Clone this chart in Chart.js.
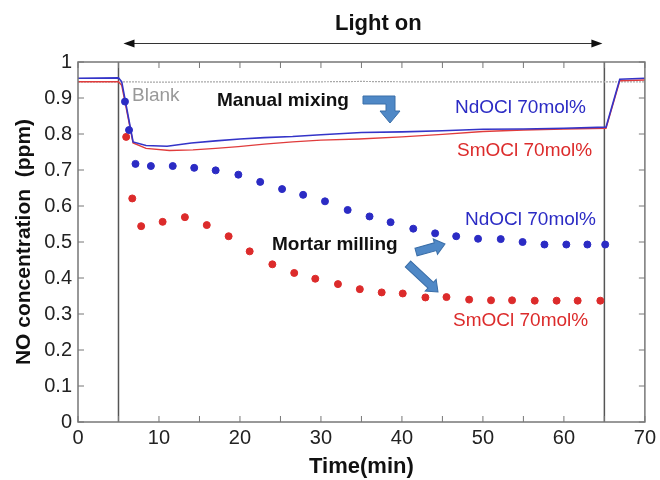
<!DOCTYPE html>
<html>
<head>
<meta charset="utf-8">
<script src="https://cdn.jsdelivr.net/npm/chart.js@4"></script>
<style>
  html, body { margin: 0; padding: 0; background: #fff; }
  #wrap { width: 660px; height: 480px; }
</style>
</head>
<body>
<div id="wrap"><canvas id="no-chart" width="660" height="480"></canvas></div>
<script>
// light switched on / off (min)
let lightOn = [5, 65];

// Blank run
let blankT = [0, 5, 10, 15, 20, 25, 30, 35, 40, 45, 50, 55, 60, 65, 70];
let blankNO = [0.945, 0.945, 0.944, 0.945, 0.945, 0.944, 0.945, 0.946, 0.945, 0.945, 0.945, 0.944, 0.945, 0.945, 0.945];

// Manual mixing (continuous traces)
let ndMixT = [0, 5, 5.4, 6.8, 8.4, 11, 14, 17, 20, 23, 26.5, 30, 35, 40, 45, 50, 55, 60, 65.2, 66.9, 70];
let ndMixNO = [0.955, 0.956, 0.945, 0.778, 0.768, 0.766, 0.775, 0.781, 0.786, 0.79, 0.793, 0.798, 0.804, 0.806, 0.809, 0.813, 0.814, 0.816, 0.819, 0.952, 0.955];
let smMixT = [0, 5, 5.4, 6.8, 8.4, 11.3, 14.2, 17, 19.8, 23, 26.5, 30, 34.7, 40, 45, 50, 55, 60, 65.2, 66.9, 70];
let smMixNO = [0.945, 0.945, 0.935, 0.775, 0.76, 0.754, 0.756, 0.76, 0.765, 0.772, 0.778, 0.783, 0.786, 0.792, 0.799, 0.807, 0.811, 0.814, 0.816, 0.948, 0.95];

// Mortar milling (dots)
let ndMillT = [5.8, 6.3, 7.1, 9.0, 11.7, 14.35, 17.0, 19.8, 22.5, 25.2, 27.8, 30.5, 33.3, 36.0, 38.6, 41.4, 44.1, 46.7, 49.4, 52.2, 54.9, 57.6, 60.3, 62.9, 65.1];
let ndMillNO = [0.89, 0.811, 0.717, 0.711, 0.711, 0.706, 0.699, 0.687, 0.667, 0.647, 0.631, 0.613, 0.589, 0.571, 0.555, 0.537, 0.524, 0.516, 0.509, 0.508, 0.5, 0.493, 0.493, 0.493, 0.493];
let smMillT = [5.95, 6.7, 7.8, 10.45, 13.2, 15.9, 18.6, 21.2, 24.0, 26.7, 29.3, 32.1, 34.8, 37.5, 40.1, 42.9, 45.5, 48.3, 51.0, 53.6, 56.4, 59.1, 61.7, 64.5];
let smMillNO = [0.792, 0.621, 0.544, 0.556, 0.569, 0.547, 0.516, 0.474, 0.438, 0.414, 0.398, 0.383, 0.369, 0.36, 0.357, 0.346, 0.347, 0.34, 0.338, 0.338, 0.337, 0.337, 0.337, 0.337];

let pts = (xs, ys) => xs.map((x, i) => ({x: x, y: ys[i]}));

let blue = '#2b2bc4';
let red = '#dc2b2b';
let arrowBlue = '#4f88c6';

function blockArrow(ctx, x1, y1, x2, y2) {
  let w = 4, hw = 8, hl = 10;
  let a = Math.atan2(y2 - y1, x2 - x1);
  let len = Math.hypot(x2 - x1, y2 - y1);
  ctx.save();
  ctx.translate(x1, y1);
  ctx.rotate(a);
  ctx.beginPath();
  ctx.moveTo(0, -w);
  ctx.lineTo(len - hl, -w);
  ctx.lineTo(len - hl, -hw);
  ctx.lineTo(len, 0);
  ctx.lineTo(len - hl, hw);
  ctx.lineTo(len - hl, w);
  ctx.lineTo(0, w);
  ctx.closePath();
  ctx.fillStyle = arrowBlue;
  ctx.fill();
  ctx.strokeStyle = '#3a6ea8';
  ctx.lineWidth = 1;
  ctx.stroke();
  ctx.restore();
}

let notes = {
  id: 'notes',
  beforeDatasetsDraw(chart) {
    let {ctx, chartArea: a, scales: {x}} = chart;
    ctx.save();
    ctx.strokeStyle = '#555';
    ctx.lineWidth = 1.5;
    for (let t of lightOn) {
      let px = x.getPixelForValue(t);
      ctx.beginPath();
      ctx.moveTo(px, a.top);
      ctx.lineTo(px, a.bottom);
      ctx.stroke();
    }
    ctx.restore();
  },
  afterDraw(chart) {
    let {ctx, chartArea: a, scales: {x, y}} = chart;
    ctx.save();

    // frame + inward ticks
    ctx.strokeStyle = '#777';
    ctx.lineWidth = 1.5;
    ctx.strokeRect(a.left, a.top, a.right - a.left, a.bottom - a.top);
    ctx.lineWidth = 1;
    ctx.beginPath();
    for (let t = 0; t <= 70; t += 5) {
      let px = x.getPixelForValue(t);
      ctx.moveTo(px, a.bottom); ctx.lineTo(px, a.bottom - 6);
      ctx.moveTo(px, a.top); ctx.lineTo(px, a.top + 6);
    }
    for (let v = 0; v <= 10; v++) {
      let py = y.getPixelForValue(v / 10);
      ctx.moveTo(a.left, py); ctx.lineTo(a.left + 6, py);
      ctx.moveTo(a.right, py); ctx.lineTo(a.right - 6, py);
    }
    ctx.stroke();

    // Light on arrow
    let x1 = x.getPixelForValue(lightOn[0]) + 5;
    let x2 = x.getPixelForValue(lightOn[1]) - 2;
    let ay = 43.5;
    ctx.strokeStyle = '#333';
    ctx.fillStyle = '#111';
    ctx.beginPath();
    ctx.moveTo(x1 + 8, ay); ctx.lineTo(x2 - 8, ay);
    ctx.stroke();
    ctx.beginPath();
    ctx.moveTo(x1, ay); ctx.lineTo(x1 + 11, ay - 4); ctx.lineTo(x1 + 11, ay + 4); ctx.closePath();
    ctx.moveTo(x2, ay); ctx.lineTo(x2 - 11, ay - 4); ctx.lineTo(x2 - 11, ay + 4); ctx.closePath();
    ctx.fill();

    ctx.textBaseline = 'middle';
    ctx.textAlign = 'left';
    ctx.fillStyle = '#111';
    ctx.font = 'bold 22px "Liberation Sans"';
    ctx.fillText('Light on', 335, 24);

    ctx.font = 'bold 19px "Liberation Sans"';
    ctx.fillText('Manual mixing', 217, 101);
    ctx.fillText('Mortar milling', 272, 245);

    ctx.fillStyle = '#999';
    ctx.font = '19px "Liberation Sans"';
    ctx.fillText('Blank', 132, 96);

    ctx.font = '19px "Liberation Sans"';
    ctx.fillStyle = blue;
    ctx.fillText('NdOCl 70mol%', 455, 108);
    ctx.fillText('NdOCl 70mol%', 465, 220);
    ctx.fillStyle = red;
    ctx.fillText('SmOCl 70mol%', 457, 151);
    ctx.fillText('SmOCl 70mol%', 453, 321);

    // bent arrow for manual mixing
    ctx.beginPath();
    ctx.moveTo(363, 96);
    ctx.lineTo(395, 96);
    ctx.lineTo(395, 111);
    ctx.lineTo(400, 111);
    ctx.lineTo(390, 123);
    ctx.lineTo(380, 111);
    ctx.lineTo(386, 111);
    ctx.lineTo(386, 104);
    ctx.lineTo(363, 104);
    ctx.closePath();
    ctx.fillStyle = arrowBlue;
    ctx.fill();
    ctx.strokeStyle = '#3a6ea8';
    ctx.stroke();

    blockArrow(ctx, 416, 252, 445, 244);
    blockArrow(ctx, 408, 264, 438, 292);

    ctx.restore();
  }
};

let tickFont = {family: 'Liberation Sans', size: 20};
let titleFont = {family: 'Liberation Sans', size: 21, weight: 'bold'};

new Chart(document.getElementById('no-chart'), {
  type: 'scatter',
  data: {
    datasets: [{
        label: 'NdOCl 70mol% (mortar milling)',
        data: pts(ndMillT, ndMillNO),
        backgroundColor: blue,
        borderColor: blue,
        pointRadius: 3.5,
        showLine: false,
      }, {
        label: 'SmOCl 70mol% (mortar milling)',
        data: pts(smMillT, smMillNO),
        backgroundColor: red,
        borderColor: red,
        pointRadius: 3.5,
        showLine: false,
      }, {
        label: 'NdOCl 70mol% (manual mixing)',
        data: pts(ndMixT, ndMixNO),
        borderColor: '#3434c8',
        borderWidth: 1.6,
        pointRadius: 0,
        showLine: true,
      }, {
        label: 'SmOCl 70mol% (manual mixing)',
        data: pts(smMixT, smMixNO),
        borderColor: '#e03c3c',
        borderWidth: 1.4,
        pointRadius: 0,
        showLine: true,
      }, {
        label: 'Blank',
        data: pts(blankT, blankNO),
        borderColor: '#a8a8a8',
        borderWidth: 1.2,
        borderDash: [2, 1],
        pointRadius: 0,
        showLine: true,
      }
    ]
  },
  options: {
    responsive: false,
    animation: false,
    events: [],
    layout: { padding: {top: 62, right: 13, left: 0, bottom: 0} },
    plugins: {
      legend: { display: false },
      tooltip: { enabled: false },
      title: { display: false }
    },
    scales: {
      x: {
        type: 'linear',
        min: 0,
        max: 70,
        grid: { display: false, drawTicks: false },
        border: { display: false },
        ticks: { stepSize: 10, color: '#222', font: tickFont, padding: 4, maxRotation: 0 },
        title: { display: true, text: 'Time(min)', color: '#111', font: {family: 'Liberation Sans', size: 22, weight: 'bold'}, padding: {top: 0, bottom: 0} },
        afterFit: (s) => { s.height = 58; }
      },
      y: {
        min: 0,
        max: 1,
        grid: { display: false, drawTicks: false },
        border: { display: false },
        ticks: {
          stepSize: 0.1,
          color: '#222',
          font: tickFont,
          padding: 6,
          callback: (v) => String(Number(v.toFixed(1)))
        },
        title: { display: true, text: 'NO concentration  (ppm)', color: '#111', font: titleFont, padding: {top: 12, bottom: 0} },
        afterFit: (s) => { s.width = 78; }
      }
    }
  },
  plugins: [notes]
});
</script>
</body>
</html>
